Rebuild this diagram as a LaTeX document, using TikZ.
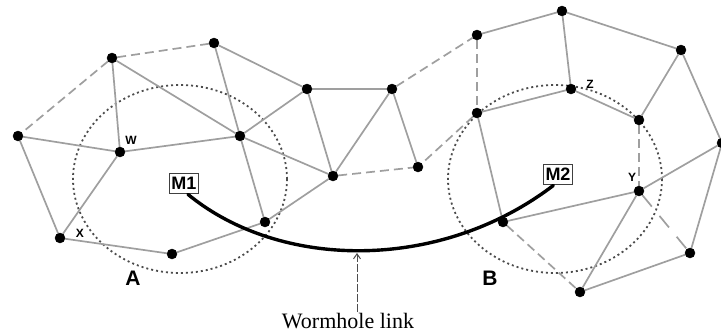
\documentclass[tikz,border=0pt]{standalone}
\usepackage{fontspec}
\setmainfont{Liberation Serif}
\setsansfont{Liberation Sans}
\usepackage{xcolor}
\usepackage{tikz}
\usetikzlibrary{positioning, arrows.meta, backgrounds}

\begin{document}
\begin{tikzpicture}[x=1pt, y=-1pt,
    main/.style = {draw=black, circle, fill=black, inner sep=0pt, minimum size=10pt},
    link/.style = {draw=gray!75, line width=1.7pt},
    weak/.style = {draw=gray!75, line width=1.7pt, dash pattern=on 9pt off 5pt},
    zone/.style = {draw=black!70, line width=1.8pt, dash pattern=on 2pt off 3pt},
    tag/.style = {font=\sffamily\bfseries\fontsize{12}{13}\selectfont, inner sep=1pt},
    area/.style = {font=\sffamily\bfseries\fontsize{21}{23}\selectfont, inner sep=0pt},
    mal/.style = {draw=black!75, line width=1.3pt, fill=white, inner xsep=2pt, inner ysep=4pt, font=\sffamily\bfseries\fontsize{18}{18}\selectfont}]
    \useasboundingbox (0,0) rectangle (721,333);

    % 节点
    \node[main] (s1) at (112,58) {};
    \node[main] (s2) at (214,43) {};
    \node[main] (s3) at (18,136) {};
    \node[main] (s4) at (120,152) {};
    \node[main] (s5) at (240,136) {};
    \node[main] (s6) at (307,89) {};
    \node[main] (s7) at (60,238) {};
    \node[main] (s8) at (172,254) {};
    \node[main] (s9) at (265,222) {};
    \node[main] (s10) at (333,176) {};
    \node[main] (s11) at (392,89) {};
    \node[main] (s12) at (418,167) {};
    \node[main] (s13) at (477,35) {};
    \node[main] (s14) at (562,11) {};
    \node[main] (s15) at (477,113) {};
    \node[main] (s16) at (571,89) {};
    \node[main] (s17) at (681,50) {};
    \node[main] (s18) at (639,120) {};
    \node[main] (s19) at (722,143) {};
    \node[main] (s20) at (639,191) {};
    \node[main] (s21) at (503,222) {};
    \node[main] (s22) at (690,253) {};
    \node[main] (s23) at (580,292) {};

    \begin{scope}[on background layer]
    % 区域
    \draw[zone] (180,179) ellipse [x radius=107pt, y radius=94pt];
    \draw[zone] (555,179) ellipse [x radius=107pt, y radius=94pt];

    % 连线
    \draw[weak] (s1) -- (s2);
    \draw[weak] (s1) -- (s3);
    \draw[link] (s1) -- (s4);
    \draw[link] (s1) -- (s5);
    \draw[link] (s2) -- (s5);
    \draw[link] (s2) -- (s6);
    \draw[link] (s3) -- (s4);
    \draw[link] (s3) -- (s7);
    \draw[link] (s4) -- (s5);
    \draw[link] (s4) -- (s7);
    \draw[link] (s5) -- (s6);
    \draw[link] (s5) -- (s9);
    \draw[link] (s5) -- (s10);
    \draw[link] (s6) -- (s10);
    \draw[link] (s6) -- (s11);
    \draw[link] (s11) -- (s10);
    \draw[link] (s11) -- (s12);
    \draw[weak] (s10) -- (s12);
    \draw[link] (s10) -- (s9);
    \draw[link] (s7) -- (s8);
    \draw[link] (s8) -- (s9);
    \draw[weak] (s11) -- (s13);
    \draw[link] (s13) -- (s14);
    \draw[link] (s14) -- (s17);
    \draw[weak] (s13) -- (s15);
    \draw[link] (s14) -- (s16);
    \draw[link] (s15) -- (s16);
    \draw[link] (s16) -- (s18);
    \draw[link] (s17) -- (s18);
    \draw[link] (s17) -- (s19);
    \draw[weak] (s18) -- (s20);
    \draw[weak] (s15) -- (s12);
    \draw[link] (s15) -- (s21);
    \draw[link] (s21) -- (s20);
    \draw[link] (s20) -- (s19);
    \draw[link] (s20) -- (s23);
    \draw[link] (s19) -- (s22);
    \draw[link] (s22) -- (s23);
    \draw[weak] (s21) -- (s23);
    \draw[weak, dash pattern=on 15pt off 12pt] (s20) -- (s22);
    \end{scope}

    % 标签
    \node[tag] (lw) at (131,140) {W};
    \node[tag] (lx) at (80,233) {X};
    \node[tag] (ly) at (632,177) {Y};
    \node[tag] (lz) at (590,84) {Z};
    \node[area] (la) at (133,278) {A};
    \node[area] (lb) at (490,278) {B};

    % 虫洞
    \node[mal] (m1) at (184,183.5) {M1};
    \node[mal] (m2) at (558,174.5) {M2};
    \draw[line width=3.4pt, line cap=round] (m1.-70) .. controls (280,270) and (440,272) .. (m2.-113);
    \node[font=\fontsize{22}{24}\selectfont, inner sep=1pt] (wl) at (348,321) {Wormhole link};
    \coordinate (tip) at (357,253);
    \draw[black!70, line width=1pt, dash pattern=on 8pt off 2pt, -{Straight Barb[length=5pt, width=7pt]}] (tip |- wl.north) -- (tip);
\end{tikzpicture}
\end{document}
